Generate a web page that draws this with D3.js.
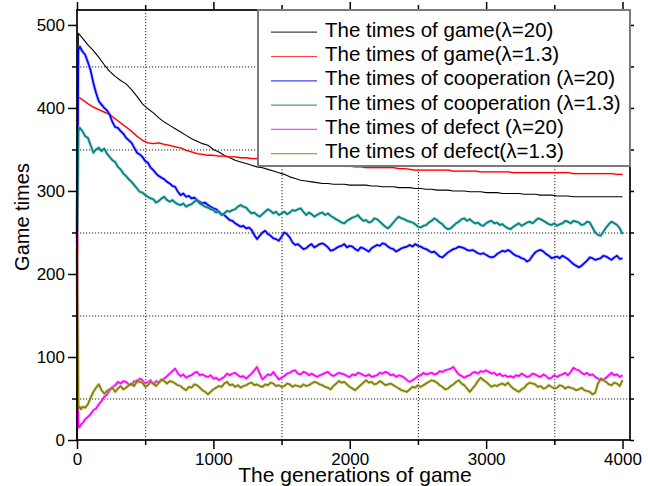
<!DOCTYPE html>
<html>
<head>
<meta charset="utf-8">
<script src="https://cdn.jsdelivr.net/npm/d3@7"></script>
<style>
  body { margin: 0; background: #fff; }
  text { font-family: "Liberation Sans", Arial, sans-serif; fill: #000; }
</style>
</head>
<body>
<svg id="chart" width="648" height="486"></svg>
<script>
// Sample generations for the two (smooth) game-count curves
const generationsCoarse = [0, 10, 20, 40, 80, 120, 160, 200, 240, 280, 320, 360, 400, 440, 480, 520, 560, 600, 640, 680,
  720, 760, 800, 840, 880, 920, 960, 1000, 1040, 1080, 1120, 1160, 1200, 1240, 1280, 1320, 1360, 1400, 1440, 1480,
  1520, 1560, 1600, 1640, 1680, 1720, 1760, 1800, 1840, 1880, 1920, 1960, 2000, 2040, 2080, 2120, 2160, 2200, 2240, 2280,
  2320, 2360, 2400, 2440, 2480, 2520, 2560, 2600, 2640, 2680, 2720, 2760, 2800, 2840, 2880, 2920, 2960, 3000, 3040, 3080,
  3120, 3160, 3200, 3240, 3280, 3320, 3360, 3400, 3440, 3480, 3520, 3560, 3600, 3640, 3680, 3720, 3760, 3800, 3840, 3880,
  3920, 3960, 4000];

// Sample generations for the (noisy) cooperation / defection curves
const generationsFine = [0, 10, 20, 30, 40, 60, 80, 100, 120, 140,
  160, 180, 200, 220, 240, 260, 280, 300, 320, 340,
  360, 380, 400, 420, 440, 460, 480, 500, 520, 540,
  560, 580, 600, 620, 640, 660, 680, 700, 720, 740,
  760, 780, 800, 820, 840, 860, 880, 900, 920, 940,
  960, 980, 1000, 1020, 1040, 1060, 1080, 1100, 1120, 1140,
  1160, 1180, 1200, 1220, 1240, 1260, 1280, 1300, 1320, 1340,
  1360, 1380, 1400, 1420, 1440, 1460, 1480, 1500, 1520, 1540,
  1560, 1580, 1600, 1620, 1640, 1660, 1680, 1700, 1720, 1740,
  1760, 1780, 1800, 1820, 1840, 1860, 1880, 1900, 1920, 1940,
  1960, 1980, 2000, 2020, 2040, 2060, 2080, 2100, 2120, 2140,
  2160, 2180, 2200, 2220, 2240, 2260, 2280, 2300, 2320, 2340,
  2360, 2380, 2400, 2420, 2440, 2460, 2480, 2500, 2520, 2540,
  2560, 2580, 2600, 2620, 2640, 2660, 2680, 2700, 2720, 2740,
  2760, 2780, 2800, 2820, 2840, 2860, 2880, 2900, 2920, 2940,
  2960, 2980, 3000, 3020, 3040, 3060, 3080, 3100, 3120, 3140,
  3160, 3180, 3200, 3220, 3240, 3260, 3280, 3300, 3320, 3340,
  3360, 3380, 3400, 3420, 3440, 3460, 3480, 3500, 3520, 3540,
  3560, 3580, 3600, 3620, 3640, 3660, 3680, 3700, 3720, 3740,
  3760, 3780, 3800, 3820, 3840, 3860, 3880, 3900, 3920, 3940,
  3960, 3980, 4000];

// The times of game (λ=20)
const gameL20 = [0, 490, 488, 484, 476, 469, 461, 452, 444, 438, 433, 429, 422, 414, 405, 399, 394, 388, 383, 379,
  375, 371, 367, 363, 360, 357, 355, 350, 347, 343, 340, 337, 335, 333, 331, 329, 328, 326, 324, 322,
  320, 317, 315, 313, 312, 311, 310, 309, 309, 308, 308, 308, 307, 307, 307, 307, 306, 306, 305, 305,
  305, 304, 304, 304, 303, 303, 302, 302, 301, 301, 301, 300, 300, 300, 299, 299, 299, 298, 298, 298,
  297, 297, 297, 297, 296, 296, 296, 295, 295, 295, 294, 294, 294, 293, 293, 293, 293, 293, 293, 293,
  293, 293, 293];

// The times of game (λ=1.3)
const gameL13 = [0, 413, 412, 410, 405, 401, 398, 395, 392, 387, 382, 377, 372, 366, 361, 358, 357, 358, 356, 355,
  353, 352, 349, 347, 345, 344, 343, 343, 342, 342, 341, 341, 340, 340, 339, 339, 338, 338, 337, 336,
  336, 335, 335, 334, 334, 333, 333, 332, 332, 331, 331, 330, 330, 329, 329, 328, 328, 328, 328, 328,
  328, 327, 327, 326, 325, 325, 325, 325, 325, 325, 325, 324, 324, 324, 324, 324, 323, 323, 323, 323,
  323, 323, 322, 322, 322, 322, 322, 322, 322, 322, 322, 322, 322, 321, 321, 321, 321, 321, 321, 321,
  321, 320, 320];

// The times of cooperation (λ=20)
const coopL20 = [245, 470, 474, 471, 468, 464, 455, 445, 430, 418,
  408, 404, 400, 397, 392, 383, 377, 376, 372, 369,
  364, 361, 358, 352, 346, 344, 341, 336, 334, 328,
  325, 321, 318, 316, 314, 311, 309, 306, 305, 299,
  295, 297, 293, 294, 291, 292, 289, 287, 285, 286,
  283, 281, 279, 278, 275, 272, 271, 268, 265, 264,
  261, 259, 257, 258, 255, 256, 253, 247, 242, 246,
  250, 252, 248, 246, 243, 242, 240, 245, 250, 248,
  244, 238, 235, 236, 233, 230, 231, 234, 236, 232,
  234, 236, 237, 235, 232, 228, 229, 231, 233, 234,
  236, 232, 234, 233, 230, 228, 232, 231, 229, 227,
  231, 233, 235, 234, 237, 236, 233, 231, 230, 227,
  229, 231, 232, 233, 235, 233, 236, 234, 233, 231,
  230, 228, 226, 227, 224, 221, 220, 223, 226, 228,
  230, 231, 233, 232, 231, 229, 228, 229, 227, 225,
  224, 225, 223, 221, 220, 221, 224, 226, 228, 227,
  229, 227, 224, 222, 221, 219, 218, 215, 217, 222,
  226, 228, 229, 227, 224, 222, 219, 220, 221, 219,
  222, 220, 218, 215, 212, 210, 208, 210, 213, 216,
  220, 219, 217, 218, 219, 222, 221, 219, 217, 220,
  222, 218, 219];

// The times of cooperation (λ=1.3)
const coopL13 = [235, 372, 376, 374, 372, 366, 364, 355, 346, 350,
  352, 348, 351, 345, 341, 337, 335, 329, 326, 321,
  318, 314, 311, 307, 303, 299, 298, 295, 293, 291,
  290, 286, 288, 291, 293, 289, 287, 289, 286, 284,
  283, 285, 281, 283, 284, 287, 289, 285, 283, 281,
  280, 278, 277, 274, 275, 271, 273, 276, 275, 277,
  278, 281, 283, 281, 280, 276, 273, 274, 271, 269,
  272, 275, 278, 276, 273, 275, 271, 273, 275, 272,
  274, 277, 276, 278, 279, 275, 271, 274, 272, 269,
  271, 273, 274, 271, 273, 270, 268, 266, 264, 262,
  261, 264, 266, 268, 269, 271, 267, 264, 265, 262,
  263, 267, 266, 263, 260, 257, 255, 258, 262, 266,
  269, 267, 266, 264, 263, 262, 260, 257, 256, 258,
  259, 262, 264, 267, 265, 262, 260, 256, 254, 255,
  258, 261, 263, 266, 267, 264, 266, 263, 261, 262,
  259, 258, 261, 263, 264, 261, 262, 259, 260, 257,
  255, 254, 257, 259, 261, 258, 260, 262, 263, 261,
  264, 267, 266, 264, 262, 260, 259, 261, 258, 260,
  261, 264, 263, 261, 264, 263, 262, 259, 260, 263,
  262, 256, 250, 247, 246, 251, 256, 260, 263, 261,
  259, 255, 248];

// The times of defect (λ=20)
const defectL20 = [252, 15, 16, 19, 20, 25, 28, 31, 36, 38,
  43, 47, 52, 55, 60, 64, 66, 70, 68, 71,
  70, 67, 66, 71, 69, 74, 72, 68, 70, 72,
  67, 71, 69, 72, 74, 77, 80, 83, 86, 80,
  77, 79, 75, 77, 78, 81, 82, 78, 79, 77,
  76, 78, 74, 75, 72, 74, 76, 80, 78, 80,
  81, 78, 76, 77, 74, 77, 80, 84, 88, 80,
  73, 76, 79, 78, 82, 77, 73, 75, 77, 80,
  81, 83, 84, 80, 79, 82, 81, 78, 80, 78,
  76, 78, 79, 81, 82, 79, 77, 79, 81, 80,
  79, 77, 76, 79, 78, 81, 80, 78, 77, 79,
  76, 77, 78, 81, 80, 82, 81, 78, 79, 76,
  78, 77, 75, 72, 70, 72, 74, 77, 78, 81,
  79, 80, 81, 79, 80, 83, 82, 84, 85, 86,
  88, 83, 79, 77, 75, 77, 78, 81, 82, 80,
  83, 82, 84, 82, 80, 81, 78, 80, 77, 78,
  76, 77, 75, 78, 77, 80, 78, 76, 77, 80,
  79, 77, 76, 79, 77, 74, 75, 78, 76, 78,
  79, 81, 78, 82, 87, 85, 84, 81, 79, 81,
  78, 79, 76, 74, 72, 73, 75, 78, 81, 78,
  79, 76, 78];

// The times of defect (λ=1.3)
const defectL13 = [230, 38, 40, 37, 40, 39, 43, 51, 58, 63,
  67, 60, 56, 59, 61, 63, 58, 62, 65, 61,
  63, 66, 68, 65, 72, 70, 69, 64, 66, 70,
  68, 65, 69, 73, 71, 68, 71, 70, 68, 66,
  65, 62, 60, 64, 63, 67, 66, 63, 60, 58,
  55, 58, 61, 63, 65, 64, 68, 70, 66, 67,
  64, 66, 63, 65, 66, 68, 69, 66, 67, 65,
  64, 67, 66, 69, 68, 65, 66, 64, 65, 68,
  67, 64, 66, 65, 64, 67, 65, 66, 68, 70,
  69, 67, 66, 64, 63, 61, 65, 68, 71, 69,
  70, 67, 64, 62, 60, 63, 66, 69, 72, 69,
  70, 67, 68, 71, 69, 66, 67, 68, 66, 64,
  62, 60, 59, 58, 61, 64, 63, 66, 64, 66,
  68, 70, 72, 71, 69, 66, 64, 61, 62, 65,
  67, 70, 72, 68, 66, 62, 58, 62, 66, 71,
  75, 72, 70, 67, 64, 66, 65, 67, 68, 66,
  69, 65, 62, 60, 58, 61, 63, 67, 69, 68,
  67, 64, 65, 62, 63, 66, 64, 62, 63, 66,
  65, 62, 64, 63, 62, 60, 61, 63, 60, 59,
  58, 55, 57, 68, 74, 72, 70, 67, 66, 69,
  68, 65, 72];

const seriesLabels = [
  "The times of game(\u03bb=20)",
  "The times of game(\u03bb=1.3)",
  "The times of cooperation (\u03bb=20)",
  "The times of cooperation (\u03bb=1.3)",
  "The times of defect (\u03bb=20)",
  "The times of defect(\u03bb=1.3)"
];
const seriesValues = [gameL20, gameL13, coopL20, coopL13, defectL20, defectL13];
const seriesGenerations = [generationsCoarse, generationsCoarse, generationsFine, generationsFine, generationsFine, generationsFine];
const seriesColors = ["#000000", "#ff0000", "#0000ff", "#008080", "#ff00ff", "#808000"];
const haloColors = [null, "#ff9090", "#8c8cff", "#7fc0c0", "#ff9cff", "#c4c48a"];
const lineWidths = [1.1, 1.3, 1.7, 1.7, 1.7, 1.7];

const xMajorTicks = [0, 1000, 2000, 3000, 4000];
const xMinorTicks = [500, 1500, 2500, 3500];
const yMajorTicks = [0, 100, 200, 300, 400, 500];
const yMinorTicks = [50, 150, 250, 350, 450];

const xTitle = "The generations of game";
const yTitle = "Game times";

const svg = d3.select("#chart");
const plotLeft = 77, plotRight = 630, plotTop = 10, plotBottom = 440;

const x = d3.scaleLinear().domain([0, 4055]).range([plotLeft, plotRight]);
const y = d3.scaleLinear().domain([0, 518]).range([plotBottom, plotTop]);

// dotted grid at the minor tick positions
const grid = svg.append("g").attr("stroke", "#222").attr("stroke-width", 1)
  .attr("stroke-dasharray", "1.2,1.8");
grid.selectAll("line.h").data(yMinorTicks).join("line").attr("class", "h")
  .attr("x1", plotLeft).attr("x2", plotRight).attr("y1", d => y(d) + 0.5).attr("y2", d => y(d) + 0.5);
grid.selectAll("line.v").data(xMinorTicks).join("line").attr("class", "v")
  .attr("y1", plotTop).attr("y2", plotBottom).attr("x1", d => x(d) + 0.5).attr("x2", d => x(d) + 0.5);

// data lines
const lineGen = (gens, vals) => d3.line()
  .x((d, i) => x(gens[i]))
  .y(d => y(d))(vals);

const plot = svg.append("g");
seriesValues.forEach((vals, k) => {
  const d = lineGen(seriesGenerations[k], vals);
  if (haloColors[k]) {
    plot.append("path").attr("d", d).attr("fill", "none")
      .attr("stroke", haloColors[k]).attr("stroke-width", k === 1 ? 2.2 : 3.4)
      .attr("stroke-opacity", k === 1 ? 0.4 : 0.55)
      .attr("stroke-linejoin", "round");
  }
  plot.append("path").attr("d", d).attr("fill", "none")
    .attr("stroke", seriesColors[k]).attr("stroke-width", lineWidths[k])
    .attr("stroke-linejoin", "round");
});

// axes
const tickFont = "17px";
function styleAxis(g) {
  g.select(".domain").remove();
  g.selectAll(".tick line").attr("stroke", "#000").attr("stroke-width", 1.5);
  g.selectAll(".tick text").style("font-size", tickFont)
    .style("font-family", '"Liberation Sans", Arial, sans-serif').attr("fill", "#000");
}
svg.append("g").attr("transform", `translate(0,${plotBottom})`)
  .call(d3.axisBottom(x).tickValues(xMajorTicks).tickSize(9).tickPadding(4).tickFormat(d3.format("d")))
  .call(styleAxis);
svg.append("g").attr("transform", `translate(0,${plotBottom})`)
  .call(d3.axisBottom(x).tickValues(xMinorTicks).tickSize(5).tickFormat(""))
  .call(styleAxis);
svg.append("g").attr("transform", `translate(${plotLeft},0)`)
  .call(d3.axisLeft(y).tickValues(yMajorTicks).tickSize(9).tickPadding(3).tickFormat(d3.format("d")))
  .call(styleAxis);
svg.append("g").attr("transform", `translate(${plotLeft},0)`)
  .call(d3.axisLeft(y).tickValues(yMinorTicks).tickSize(5).tickFormat(""))
  .call(styleAxis);
svg.append("g").attr("transform", `translate(0,${plotTop})`)
  .call(d3.axisTop(x).tickValues(xMajorTicks).tickSize(8).tickFormat(""))
  .call(styleAxis);
svg.append("g").attr("transform", `translate(0,${plotTop})`)
  .call(d3.axisTop(x).tickValues(xMinorTicks).tickSize(5).tickFormat(""))
  .call(styleAxis);
svg.append("g").attr("transform", `translate(${plotRight},0)`)
  .call(d3.axisRight(y).tickValues(yMajorTicks.concat(yMinorTicks)).tickSize(4).tickFormat(""))
  .call(styleAxis);

// frame
svg.append("rect").attr("x", plotLeft).attr("y", plotTop)
  .attr("width", plotRight - plotLeft).attr("height", plotBottom - plotTop)
  .attr("fill", "none").attr("stroke", "#000").attr("stroke-width", 1.7);

// axis titles
svg.append("text").attr("x", 355).attr("y", 482).attr("text-anchor", "middle")
  .style("font-size", "21px").text(xTitle);
svg.append("text").attr("transform", "translate(29,217) rotate(-90)").attr("text-anchor", "middle")
  .style("font-size", "20px").text(yTitle);

// legend
const legend = svg.append("g");
legend.append("rect").attr("x", 258).attr("y", plotTop).attr("width", plotRight - 258).attr("height", 156)
  .attr("fill", "#fff").attr("stroke", "#7a7a7a").attr("stroke-width", 2);
seriesLabels.forEach((label, k) => {
  const base = 36.7 + k * 24.3;
  legend.append("line").attr("x1", 271).attr("x2", 317).attr("y1", base - 4.5).attr("y2", base - 4.5)
    .attr("stroke", seriesColors[k]).attr("stroke-width", 1.2).attr("stroke-opacity", 0.75);
  legend.append("text").attr("x", 325).attr("y", base).style("font-size", "20.5px").text(label);
});
</script>
</body>
</html>
